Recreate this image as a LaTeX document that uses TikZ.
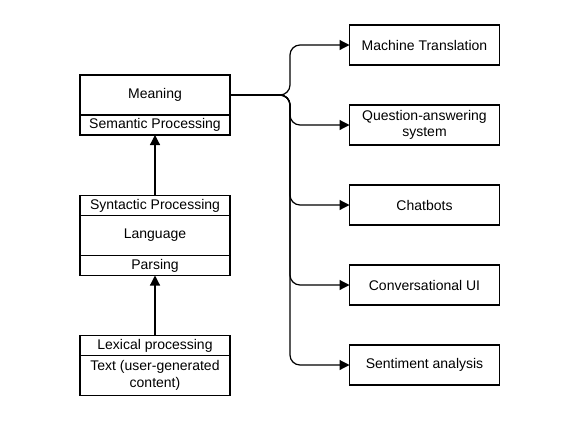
\documentclass[tikz,border=0pt]{standalone}
\usepackage{fontspec}
\setmainfont{Liberation Sans}
\usetikzlibrary{arrows.meta,positioning,calc}

\tikzset{
    box/.style={draw, line width=1.2pt, minimum width=150pt, inner sep=0pt, outer sep=0pt, align=center, font=\fontsize{14}{16.5}\selectfont},
    tall/.style={box, minimum height=40pt},
    thin/.style={box, minimum height=20pt},
    arr/.style={line width=1.2pt, -{Triangle[length=10pt,width=10pt]}},
    link/.style={arr, rounded corners=10pt}
}

\begin{document}
\begin{tikzpicture}[x=1pt,y=-1pt]
    \useasboundingbox (0,0) rectangle (584,429);
    % left stack
    \node[tall] (meaning) at (155,95) {Meaning};
    \node[thin, below=0pt of meaning] (semantic) {Semantic Processing};

    \node[thin] (syntactic) at (155,205.5) {Syntactic Processing};
    \node[tall, below=0pt of syntactic] (language) {Language};
    \node[thin, below=0pt of language] (parsing) {Parsing};

    \node[thin] (lexical) at (155,345.5) {Lexical processing};
    \node[tall, below=0pt of lexical] (text) {Text (user-generated\\content)};

    \draw[arr] (syntactic.north) -- (semantic.south);
    \draw[arr] (lexical.north) -- (parsing.south);

    % applications
    \node[tall] (mt) at (424.5,45) {Machine Translation};
    \node[tall] (qa) at (424.5,125) {Question-answering\\system};
    \node[tall] (chat) at (424.5,205) {Chatbots};
    \node[tall] (cui) at (424.5,285) {Conversational UI};
    \node[tall] (senti) at (424.5,365) {Sentiment analysis};

    \coordinate (bus) at ($(meaning.east)+(60,0)$);
    \foreach \app in {mt,qa,chat,cui,senti}
        \draw[link] (meaning.east) -- (bus) |- (\app.west);
\end{tikzpicture}
\end{document}
